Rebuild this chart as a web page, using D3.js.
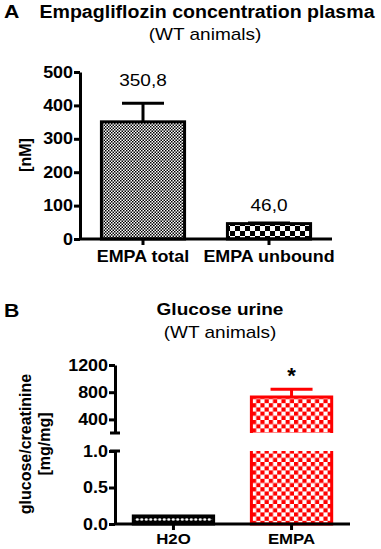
<!DOCTYPE html>
<html>
<head>
<meta charset="utf-8">
<script src="https://cdn.jsdelivr.net/npm/d3@7"></script>
<style>
  html, body { margin: 0; padding: 0; background: #fff; }
  svg { display: block; }
  text { font-family: Arial, "Liberation Sans", sans-serif; fill: #000; }
</style>
</head>
<body>
<div id="chart"></div>
<script>
// panel A: plasma concentration
const catsA = ["EMPA total", "EMPA unbound"];
const meanA = [350.8, 46.0];
const semA = [56, 2];
const valueLabelsA = ["350,8", "46,0"];
const ticksA = [0, 100, 200, 300, 400, 500];

// panel B: urine glucose (broken axis)
const catsB = ["H2O", "EMPA"];
const meanB = [0.11, 730];
const semB = [0.004, 115];
const ticksBLow = [0.0, 0.5, 1.0];
const ticksBHigh = [400, 800, 1200];

const W = 381, H = 549;
const sx = 1.12; // the source figure is stretched a bit horizontally

const svg = d3.select("#chart").append("svg")
  .attr("width", W)
  .attr("height", H);

const defs = svg.append("defs");

// fine grey-looking checker
const p1 = defs.append("pattern").attr("id", "checkFine")
  .attr("patternUnits", "userSpaceOnUse").attr("width", 3).attr("height", 3);
p1.append("rect").attr("width", 3).attr("height", 3).attr("fill", "#fff");
p1.append("rect").attr("width", 1.5).attr("height", 1.5).attr("fill", "#000");
p1.append("rect").attr("x", 1.5).attr("y", 1.5).attr("width", 1.5).attr("height", 1.5).attr("fill", "#000");

// coarse checker
const p2 = defs.append("pattern").attr("id", "checkCoarse")
  .attr("patternUnits", "userSpaceOnUse").attr("width", 10).attr("height", 10)
  .attr("y", 226);
p2.append("rect").attr("width", 10).attr("height", 10).attr("fill", "#000");
p2.append("rect").attr("width", 5).attr("height", 5).attr("fill", "#fff");
p2.append("rect").attr("x", 5).attr("y", 5).attr("width", 5).attr("height", 5).attr("fill", "#fff");

// dots
const p3 = defs.append("pattern").attr("id", "dots")
  .attr("patternUnits", "userSpaceOnUse").attr("width", 4.5).attr("height", 5)
  .attr("y", 517);
p3.append("rect").attr("width", 4.5).attr("height", 5).attr("fill", "#000");
p3.append("ellipse").attr("cx", 2.25).attr("cy", 2.5).attr("rx", 1.6).attr("ry", 1.2).attr("fill", "#fff");

// red checker
const p4 = defs.append("pattern").attr("id", "checkRed")
  .attr("patternUnits", "userSpaceOnUse").attr("width", 8.4).attr("height", 8.4);
p4.append("rect").attr("width", 8.4).attr("height", 8.4).attr("fill", "#fff");
p4.append("rect").attr("width", 4.2).attr("height", 4.2).attr("fill", "#ff0000");
p4.append("rect").attr("x", 4.2).attr("y", 4.2).attr("width", 4.2).attr("height", 4.2).attr("fill", "#ff0000");

const label = (g, x, y, str, size, weight, anchor) =>
  g.append("text")
    .attr("transform", `translate(${x},${y}) scale(${sx},1)`)
    .attr("text-anchor", anchor || "middle")
    .style("font-size", size + "px")
    .style("font-weight", weight || "normal")
    .text(str);

const styleAxis = (g) => {
  g.selectAll("path, line").attr("stroke", "#000").attr("stroke-width", 3);
  g.selectAll("text")
    .style("font-size", "16px")
    .style("font-weight", "bold")
    .style("font-family", "Arial, 'Liberation Sans', sans-serif");
};

// ---------------- Panel A ----------------
const gA = svg.append("g");
label(gA, 4, 18, "A", 19, "bold", "start");
label(gA, 207, 18, "Empagliflozin concentration plasma", 17.5, "bold");
label(gA, 205, 40, "(WT animals)", 17);

const xA = d3.scaleBand().domain(catsA).range([80, 332])
  .paddingInner(0.34).paddingOuter(0.17);
const yA = d3.scaleLinear().domain([0, 500]).range([239, 72]);

const barsA = gA.selectAll(".barA").data(catsA).enter().append("g");

// error bars first (behind)
barsA.append("line")
  .attr("x1", (d) => xA(d) + xA.bandwidth() / 2)
  .attr("x2", (d) => xA(d) + xA.bandwidth() / 2)
  .attr("y1", (d, i) => yA(meanA[i]))
  .attr("y2", (d, i) => yA(meanA[i] + semA[i]))
  .attr("stroke", "#000").attr("stroke-width", 3);
barsA.append("line")
  .attr("x1", (d) => xA(d) + xA.bandwidth() / 2 - 21)
  .attr("x2", (d) => xA(d) + xA.bandwidth() / 2 + 21)
  .attr("y1", (d, i) => yA(meanA[i] + semA[i]))
  .attr("y2", (d, i) => yA(meanA[i] + semA[i]))
  .attr("stroke", "#000").attr("stroke-width", 3);

barsA.append("rect")
  .attr("x", (d) => xA(d))
  .attr("width", xA.bandwidth())
  .attr("y", (d, i) => yA(meanA[i]))
  .attr("height", (d, i) => yA(0) - yA(meanA[i]))
  .attr("fill", (d, i) => i === 0 ? "url(#checkFine)" : "url(#checkCoarse)")
  .attr("stroke", "#000").attr("stroke-width", 3);

barsA.each(function(d, i) {
  const top = yA(meanA[i] + semA[i]);
  label(d3.select(this), xA(d) + xA.bandwidth() / 2, i === 0 ? 86 : top - 12, valueLabelsA[i], 17);
});

gA.append("g")
  .attr("transform", "translate(80,0)")
  .call(d3.axisLeft(yA).tickValues(ticksA).tickSize(6).tickSizeOuter(0).tickPadding(1).tickFormat(d3.format("d")))
  .call(styleAxis)
  .call((g) => g.selectAll("text").attr("transform", `scale(${sx},1)`).attr("x", -7 / sx));

gA.append("g")
  .attr("transform", "translate(0,239)")
  .call(d3.axisBottom(xA).tickSize(6).tickSizeOuter(0).tickPadding(6))
  .call(styleAxis)
  .call((g) => g.selectAll("text").attr("transform", `scale(${sx},1)`))
  .call((g) => g.select(".domain").attr("d", "M80,0H332"));

gA.append("text")
  .attr("transform", "translate(31,155) rotate(-90)")
  .attr("text-anchor", "middle")
  .style("font-size", "16px")
  .style("font-weight", "bold")
  .text("[nM]");

// ---------------- Panel B ----------------
const gB = svg.append("g");
label(gB, 4, 317, "B", 19, "bold", "start");
label(gB, 220, 315, "Glucose urine", 17, "bold");
label(gB, 220, 338, "(WT animals)", 17);

const axB = 115;
const xB = d3.scaleBand().domain(catsB).range([axB, 350])
  .paddingInner(0.32).paddingOuter(0.155);
const yLow = d3.scaleLinear().domain([0, 1]).range([524, 451]);
const yHigh = d3.scaleLinear().domain([200, 1200]).range([433, 365]);

const red = "#ff0000";

// error bar on EMPA (upper segment)
const cB = (d) => xB(d) + xB.bandwidth() / 2;
gB.append("line")
  .attr("x1", cB(catsB[1])).attr("x2", cB(catsB[1]))
  .attr("y1", yHigh(meanB[1])).attr("y2", yHigh(meanB[1] + semB[1]))
  .attr("stroke", red).attr("stroke-width", 3);
gB.append("line")
  .attr("x1", cB(catsB[1]) - 21).attr("x2", cB(catsB[1]) + 21)
  .attr("y1", yHigh(meanB[1] + semB[1])).attr("y2", yHigh(meanB[1] + semB[1]))
  .attr("stroke", red).attr("stroke-width", 3);

// H2O bar (lower segment only)
gB.append("rect")
  .attr("x", xB(catsB[0]))
  .attr("width", xB.bandwidth())
  .attr("y", yLow(meanB[0]))
  .attr("height", yLow(0) - yLow(meanB[0]))
  .attr("fill", "url(#dots)")
  .attr("stroke", "#000").attr("stroke-width", 3);

// EMPA bar: lower piece fills the whole lower segment, upper piece runs to the mean
const bx0 = xB(catsB[1]), bx1 = xB(catsB[1]) + xB.bandwidth();
gB.append("rect")
  .attr("x", bx0).attr("width", bx1 - bx0)
  .attr("y", yLow(1)).attr("height", yLow(0) - yLow(1))
  .attr("fill", "url(#checkRed)");
gB.append("path")
  .attr("d", `M${bx0},${yLow(1)}V${yLow(0)}H${bx1}V${yLow(1)}`)
  .attr("fill", "none").attr("stroke", red).attr("stroke-width", 3);
gB.append("rect")
  .attr("x", bx0).attr("width", bx1 - bx0)
  .attr("y", yHigh(meanB[1])).attr("height", yHigh(200) - yHigh(meanB[1]))
  .attr("fill", "url(#checkRed)");
gB.append("path")
  .attr("d", `M${bx0},${yHigh(200)}V${yHigh(meanB[1])}H${bx1}V${yHigh(200)}`)
  .attr("fill", "none").attr("stroke", red).attr("stroke-width", 3);

// asterisk
gB.append("text")
  .attr("x", cB(catsB[1])).attr("y", yHigh(meanB[1] + semB[1]) - 6)
  .attr("text-anchor", "middle")
  .style("font-size", "22px").style("font-weight", "bold")
  .text("*");

// broken y axis
gB.append("g")
  .attr("transform", `translate(${axB},0)`)
  .call(d3.axisLeft(yHigh).tickValues(ticksBHigh).tickSize(6).tickSizeOuter(0).tickPadding(1).tickFormat(d3.format("d")))
  .call(styleAxis)
  .call((g) => g.selectAll("text").attr("transform", `scale(${sx},1)`).attr("x", -7 / sx));
gB.append("g")
  .attr("transform", `translate(${axB},0)`)
  .call(d3.axisLeft(yLow).tickValues(ticksBLow).tickSize(6).tickSizeOuter(0).tickPadding(1).tickFormat(d3.format(".1f")))
  .call(styleAxis)
  .call((g) => g.selectAll("text").attr("transform", `scale(${sx},1)`).attr("x", -7 / sx));

// break caps
[yHigh(200), yLow(1)].forEach((y) => {
  gB.append("line")
    .attr("x1", axB - 5).attr("x2", axB + 5)
    .attr("y1", y).attr("y2", y)
    .attr("stroke", "#000").attr("stroke-width", 3);
});

gB.append("g")
  .attr("transform", "translate(0,524)")
  .call(d3.axisBottom(xB).tickSize(6).tickSizeOuter(0).tickPadding(3))
  .call(styleAxis)
  .call((g) => g.selectAll("text").style("font-size", "15px").attr("transform", `scale(${sx},1)`))
  .call((g) => g.select(".domain").attr("d", `M${axB},0H350`));

const yl = gB.append("text")
  .attr("transform", "translate(31,444) rotate(-90)")
  .attr("text-anchor", "middle")
  .style("font-size", "16px")
  .style("font-weight", "bold");
yl.append("tspan").attr("x", 0).attr("dy", 0).text("glucose/creatinine");
yl.append("tspan").attr("x", 0).attr("dy", 19).text("[mg/mg]");
</script>
</body>
</html>
